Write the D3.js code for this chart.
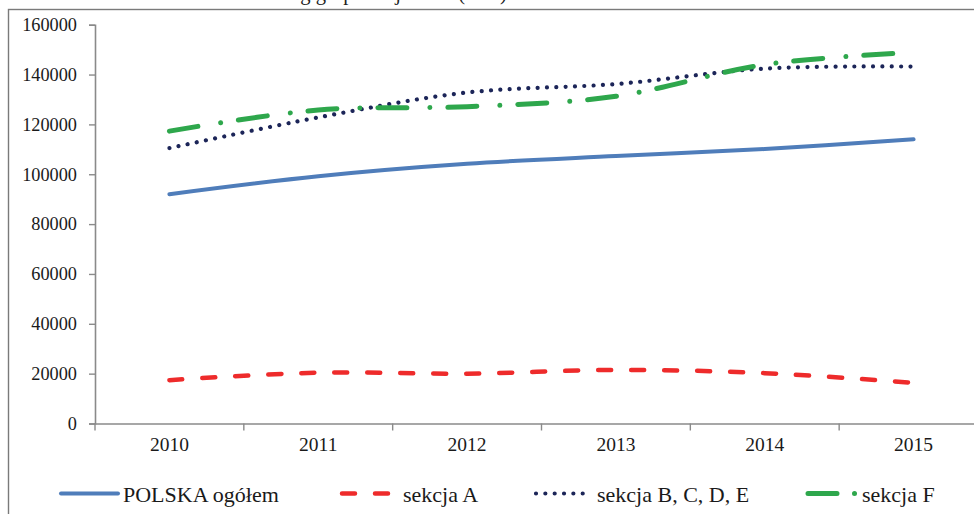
<!DOCTYPE html>
<html>
<head>
<meta charset="utf-8">
<script src="https://cdn.jsdelivr.net/npm/d3@7/dist/d3.min.js"></script>
<style>
  html, body { margin: 0; padding: 0; background: #fff; }
  svg { display: block; font-family: "Liberation Serif", "Times New Roman", serif; }
</style>
</head>
<body>
<svg id="chart" width="974" height="514"></svg>
<script>
// Years on the category axis
const years = ["2010", "2011", "2012", "2013", "2014", "2015"];

// Series values (zł per worker)
const polskaOgolem = [92000, 99200, 104200, 107300, 110100, 114000];
const sekcjaA      = [17400, 20400, 20000, 21500, 20200, 16300];
const sekcjaBCDE   = [110500, 122800, 132800, 136200, 142400, 143200];
const sekcjaF      = [117300, 125800, 127100, 131300, 144000, 148900];

// Value axis ticks
const yTicks = [0, 20000, 40000, 60000, 80000, 100000, 120000, 140000, 160000];

const seriesNames = ["POLSKA ogółem", "sekcja A", "sekcja B, C, D, E", "sekcja F"];
const seriesValues = [polskaOgolem, sekcjaA, sekcjaBCDE, sekcjaF];

// Line styles per series
const styles = [
  { color: "#4f7dba", width: 4,   dash: null,            legendDash: null },
  { color: "#ee2b2b", width: 4.5, dash: "13 20",         legendDash: "13 20" },
  { color: "#1c2558", width: 4.2, dash: "0.01 9.33",     legendDash: "0.01 9.33" },
  { color: "#2ea74c", width: 5,   dash: "29 23 0.01 18", legendDash: "29 17.5 0.01 40" }
];

const svg = d3.select("#chart");

// Outer chart frame
svg.append("rect")
  .attr("x", 8.5).attr("y", 9.5)
  .attr("width", 990).attr("height", 530)
  .attr("fill", "none")
  .attr("stroke", "#7a7a7a")
  .attr("stroke-width", 1.4);

// Title line (sits above the frame, mostly beyond the top edge)
svg.append("text")
  .attr("x", 250).attr("y", -0.5)
  .attr("font-size", 20.6)
  .attr("fill", "#222")
  .text("według grup sekcji PKD (w zł)");

const plot = { left: 95, right: 988, top: 24.7, bottom: 423.5 };

const x = d3.scaleBand().domain(years).range([plot.left, plot.right]).padding(0);
const y = d3.scaleLinear().domain([0, 160000]).range([plot.bottom, plot.top]);

const axisColor = "#8a8a8a";

// Y axis
const yAxis = svg.append("g")
  .attr("transform", `translate(${plot.left},0)`)
  .call(d3.axisLeft(y).tickValues(yTicks).tickSize(6).tickPadding(12).tickFormat(d3.format("d")));
yAxis.select(".domain").attr("stroke", axisColor).attr("stroke-width", 1.6);
yAxis.selectAll(".tick line").attr("stroke", axisColor).attr("stroke-width", 1.4);
yAxis.selectAll(".tick text")
  .attr("font-family", "Liberation Serif, Times New Roman, serif")
  .attr("font-size", 18.3).attr("fill", "#1a1a1a");

// X axis: labels centred in each band, tick marks on band boundaries
const xAxis = svg.append("g")
  .attr("transform", `translate(0,${plot.bottom})`)
  .call(d3.axisBottom(x).tickSize(0).tickPadding(14));
xAxis.select(".domain").attr("stroke", axisColor).attr("stroke-width", 1.6);
xAxis.selectAll(".tick text")
  .attr("font-family", "Liberation Serif, Times New Roman, serif")
  .attr("font-size", 19.5).attr("fill", "#1a1a1a");

const boundaries = years.map(d => x(d)).concat([x(years[years.length - 1]) + x.bandwidth()]);
xAxis.selectAll("line.boundary")
  .data(boundaries)
  .enter().append("line")
  .attr("class", "boundary")
  .attr("x1", d => d).attr("x2", d => d)
  .attr("y1", 0).attr("y2", 7)
  .attr("stroke", axisColor).attr("stroke-width", 1.4);

// Smoothed series lines
const line = d3.line()
  .x((d, i) => x(years[i]) + x.bandwidth() / 2)
  .y(d => y(d))
  .curve(d3.curveCardinal.tension(0));

seriesValues.forEach((vals, i) => {
  const s = styles[i];
  svg.append("path")
    .datum(vals)
    .attr("d", line)
    .attr("fill", "none")
    .attr("stroke", s.color)
    .attr("stroke-width", s.width)
    .attr("stroke-linecap", "round")
    .attr("stroke-linejoin", "round")
    .attr("stroke-dasharray", s.dash);
});

// Legend
const legendY = 493.5;
const legendItems = [
  { x0: 61,  x1: 118, tx: 123 },
  { x0: 342, x1: 389, tx: 403 },
  { x0: 536, x1: 584, tx: 597 },
  { x0: 808, x1: 856, tx: 862 }
];
const legend = svg.append("g");
legendItems.forEach((it, i) => {
  const s = styles[i];
  legend.append("line")
    .attr("x1", it.x0).attr("x2", it.x1)
    .attr("y1", legendY).attr("y2", legendY)
    .attr("stroke", s.color)
    .attr("stroke-width", s.width)
    .attr("stroke-linecap", "round")
    .attr("stroke-dasharray", s.legendDash);
  legend.append("text")
    .attr("x", it.tx).attr("y", 501.5)
    .attr("font-size", 22)
    .attr("fill", "#1a1a1a")
    .text(seriesNames[i]);
});
</script>
</body>
</html>
